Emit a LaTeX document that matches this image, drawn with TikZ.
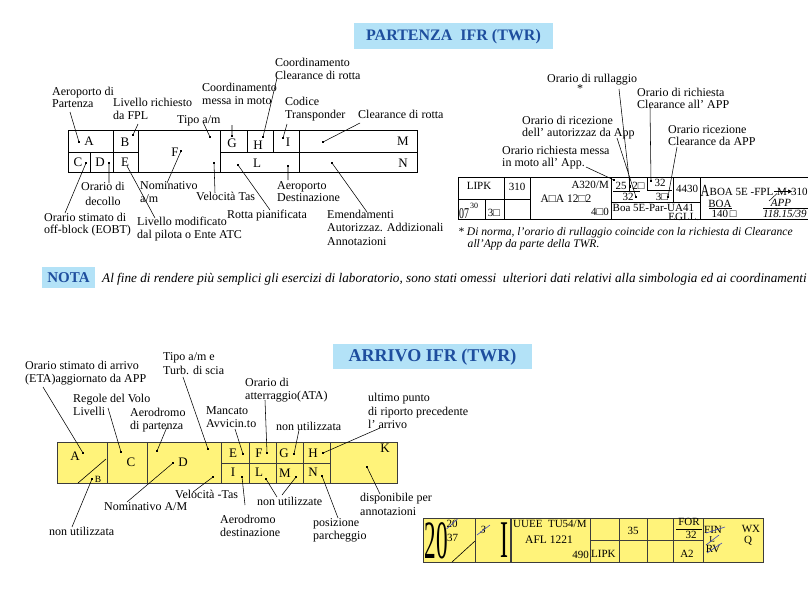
\documentclass[tikz,border=0pt]{standalone}
\usepackage{fontspec}
\setmainfont{Liberation Serif}
\usetikzlibrary{arrows.meta}
\definecolor{ttlblue}{RGB}{179,226,247}
\definecolor{ttltext}{RGB}{30,78,158}
\definecolor{stripyel}{RGB}{255,243,122}
\definecolor{strikeblue}{RGB}{60,70,190}
\definecolor{strokegray}{RGB}{60,60,60}
\newcommand\lblfont{\fontsize{12}{12.6}\selectfont}
\newcommand\cellfont{\fontsize{13}{14}\selectfont}
\newcommand\smfont{\fontsize{11}{12}\selectfont}
\newcommand\mytab[1]{\begin{tabular}[t]{@{}l@{}}#1\end{tabular}}
\newcommand\mytabc[1]{\begin{tabular}[t]{@{}c@{}}#1\end{tabular}}
\begin{document}
\begin{tikzpicture}[x=1pt,y=-1pt,
  lab/.style={anchor=base west, inner sep=0, font=\lblfont},
  cell/.style={inner sep=0, font=\cellfont},
  smtxt/.style={inner sep=0, font=\smfont},
  sqdot/.style={rectangle, fill=black, inner sep=0, minimum size=2.8pt},
  lead/.style={line width=0.55pt},
  gridl/.style={line width=0.7pt},
  agrid/.style={line width=0.8pt, draw=strokegray},
  strike/.style={line width=0.6pt, draw=strikeblue},
  ttlbox/.style={fill=ttlblue, inner sep=0},
  ttltxt/.style={inner sep=0, text=ttltext, font=\bfseries}
]
\useasboundingbox (0,0) rectangle (808,590);
\clip (0,0) rectangle (808,590);
\fill[white] (0,0) rectangle (808,590);

% ---------- titles ----------
\fill[ttlbox] (354,23) rectangle (553,49);
\node[ttltxt, font=\fontsize{16}{18}\selectfont\bfseries] (tPart) at (453.5,36.5) {PARTENZA\ \ IFR (TWR)};
\fill[ttlbox] (333,344) rectangle (532,369);
\node[ttltxt, font=\fontsize{18}{20}\selectfont\bfseries] (tArr) at (432.5,357) {ARRIVO IFR (TWR)};
\fill[ttlbox] (42,267) rectangle (95,288);
\node[ttltxt, font=\fontsize{15}{17}\selectfont\bfseries] (tNota) at (68.5,278) {NOTA};
\node[anchor=base west, inner sep=0, font=\fontsize{13.2}{15}\selectfont\itshape] (nota) at (102,282)
  {Al fine di rendere più semplici gli esercizi di laboratorio, sono stati omessi\ \ ulteriori dati relativi alla simbologia ed ai coordinamenti};

% ---------- PARTENZA left strip ----------
\draw[gridl] (68,130) rectangle (417,172);
\draw[gridl] (68,152) -- (138,152) (113,130) -- (113,172) (90,152) -- (90,172)
  (138,130) -- (138,172) (220,130) -- (220,172) (220,152) -- (417,152)
  (247,130) -- (247,152) (273,130) -- (273,152) (299,130) -- (299,172);
\node[cell] (pA) at (89,141) {A};
\node[cell] (pB) at (125,142) {B};
\node[cell] (pC) at (78,162) {C};
\node[cell] (pD) at (100,162) {D};
\node[cell] (pE) at (125,162) {E};
\node[cell] (pF) at (175,152) {F};
\node[cell] (pG) at (232,143) {G};
\node[cell] (pH) at (258,145) {H};
\node[cell] (pI) at (288,142) {I};
\node[cell] (pM) at (403,141) {M};
\node[cell] (pL) at (257,163) {L};
\node[cell] (pN) at (403,163) {N};

\node[sqdot] (dpA) at (79,142) {};
\node[sqdot] (dpB) at (133,135) {};
\node[sqdot] (dpC) at (86,163) {};
\node[sqdot] (dpD) at (109,163) {};
\node[sqdot] (dpF) at (181,151) {};
\node[sqdot] (dpT) at (210,137) {};
\node[sqdot] (dpV) at (214,163) {};
\node[sqdot] (dpG) at (232,136) {};
\node[sqdot] (dpH) at (263,137) {};
\node[sqdot] (dpI) at (283,138) {};
\node[sqdot] (dpM) at (323,142) {};
\node[sqdot] (dpL) at (238,165) {};
\node[sqdot] (dpDe) at (288,166) {};
\node[sqdot] (dpN) at (332,163) {};

\coordinate (epA) at (70,112);
\coordinate (epB) at (138,124);
\coordinate (epT) at (203,122);
\coordinate (epG) at (232,125);
\coordinate (epH) at (277,78);
\coordinate (epI) at (287,124);
\coordinate (epM) at (360,123);
\coordinate (epC) at (65,213);
\coordinate (epD) at (109,183);
\coordinate (spE) at (127,166);
\coordinate (epE) at (155,218);
\coordinate (epF) at (167,183);
\coordinate (epV) at (215,193);
\coordinate (epL) at (270,210);
\coordinate (epDe) at (288,180);
\coordinate (epN) at (367,212);
\draw[lead] (dpA.center) -- (epA) (dpB.center) -- (epB) (dpT.center) -- (epT)
  (dpG.center) -- (epG) (dpH.center) -- (epH) (dpI.center) -- (epI)
  (dpM.center) -- (epM) (dpC.center) -- (epC) (dpD.center) -- (epD)
  (spE) -- (epE) (dpF.center) -- (epF) (dpV.center) -- (epV)
  (dpL.center) -- (epL) (dpDe.center) -- (epDe) (dpN.center) -- (epN);

\node[lab, font=\fontsize{12}{12}\selectfont] (lpA) at (52,95.5) {\mytab{Aeroporto di\\Partenza}};
\node[lab] (lpB) at (113,106.5) {\mytab{Livello richiesto\\da FPL}};
\node[lab] (lpT) at (177,123.5) {Tipo\ a/m};
\node[lab] (lpG) at (202,91.5) {\mytab{Coordinamento\\messa in moto}};
\node[lab] (lpH) at (275,66.5) {\mytab{Coordinamento\\Clearance di rotta}};
\node[lab] (lpI) at (285,105.5) {\mytab{Codice\\Transponder}};
\node[lab] (lpM) at (358,118.5) {Clearance di rotta};
\node[lab, anchor=base, font=\fontsize{12}{14.5}\selectfont] (lpD) at (103,190.5) {\mytabc{Orario di\\decollo}};
\node[lab, font=\fontsize{12}{12.2}\selectfont] (lpC) at (44,221.5) {\mytab{Orario stimato di\\off-block (EOBT)}};
\node[lab] (lpF) at (140,189.5) {\mytab{Nominativo\\a/m}};
\node[lab] (lpE) at (137,225.5) {\mytab{Livello modificato\\dal pilota o Ente ATC}};
\node[lab] (lpV) at (196,200.5) {Velocità Tas};
\node[lab] (lpL) at (227,218.5) {Rotta pianificata};
\node[lab, font=\fontsize{12}{12.2}\selectfont] (lpDe) at (277,189.5) {\mytab{Aeroporto\\Destinazione}};
\node[lab, font=\fontsize{12}{13.3}\selectfont] (lpN) at (327,218.5) {\mytab{Emendamenti\\Autorizzaz. Addizionali\\Annotazioni}};

% ---------- PARTENZA right strip ----------
\draw[gridl] (808,177) -- (458,177) -- (458,219) -- (808,219);
\draw[gridl] (458,199) -- (530,199) (485,199) -- (485,219) (504,177) -- (504,219)
  (530,177) -- (530,219) (611,177) -- (611,219) (700,177) -- (700,219)
  (611,202) -- (700,202) (673,177) -- (673,202)
  (629,177) -- (629,192) (647,177) -- (647,190) (647,190) -- (672,190);
\draw[line width=0.5pt] (613,191.5) -- (640,191.5);
\node[smtxt] (rLIPK) at (479,186) {LIPK};
\node[smtxt] (r310) at (517,187) {310};
\node[inner sep=0, anchor=base west, font=\fontsize{15}{15}\selectfont] (r07) at (459,218.5) {\scalebox{0.66}[1]{07}};
\node[inner sep=0, font=\fontsize{8}{9}\selectfont, anchor=base west] (r30) at (470,208) {30};
\node[smtxt] (r3sq) at (494,213) {3□};
\node[smtxt, anchor=east] (rA320) at (609,185) {A320/M};
\node[smtxt, font=\fontsize{11.5}{12}\selectfont] (rAA) at (566,199) {A□A 12□2};
\node[smtxt, anchor=east] (r4q0) at (609,212) {4□0};
\node[smtxt] (r25) at (621,186) {25};
\node[smtxt] (r2q) at (638.5,186) {2□};
\node[smtxt] (r32a) at (628,197) {32};
\node[smtxt] (r32b) at (660,183) {32};
\node[smtxt] (r3qb) at (662,197) {3□};
\node[smtxt] (r4430) at (687,189) {4430};
\node[smtxt, anchor=west] (rBoa) at (612.5,207.5) {Boa 5E-Par-UA41};
\node[smtxt, anchor=east] (rEGLL) at (699.5,216.5) {EGLL.};
\node[inner sep=0, anchor=base west, font=\fontsize{17}{18}\selectfont] (rBigA) at (700.5,196) {\scalebox{0.72}[1]{A}};
\node[smtxt, anchor=base west] (rFPL) at (709.5,195) {BOA 5E -FPL};
\coordinate (sl1) at (769,201);
\coordinate (sl2) at (777,193.5);
\draw[line width=0.5pt] (sl1) -- (sl2);
\node[smtxt, anchor=base west] (rM) at (777,195) {M};
\coordinate (ar1) at (774,191.5);
\coordinate (ar2) at (792,191.5);
\draw[line width=0.6pt, -{Triangle[length=4pt,width=4pt]}] (ar1) -- (ar2);
\node[smtxt, anchor=base west] (r310b) at (791,195) {310};
\node[smtxt] (rBOA) at (720,204) {BOA};
\draw[line width=0.5pt] (709,208.5) -- (732,208.5);
\node[smtxt] (r140) at (724,214) {140\,□};
\node[smtxt, font=\smfont\itshape] (rAPP) at (781,203) {APP};
\draw[line width=0.5pt] (763,208.5) -- (808,208.5);
\node[smtxt, font=\smfont\itshape, anchor=west] (r118) at (763,214) {118.15/39'};

\node[sqdot] (drMo) at (614,180) {};
\node[sqdot] (drRu) at (630,186.5) {};
\node[sqdot] (drAu) at (636,197) {};
\node[sqdot] (drCl) at (651,181) {};
\node[sqdot] (drRc) at (668,197) {};
\coordinate (erMo) at (586,167);
\coordinate (erRu) at (619,89);
\coordinate (erAu) at (617,138);
\coordinate (erCl) at (650,107);
\coordinate (erRc) at (677,147);
\draw[lead] (drMo.center) -- (erMo) (drRu.center) -- (erRu) (drAu.center) -- (erAu)
  (drCl.center) -- (erCl) (drRc.center) -- (erRc);

\node[lab] (lrRu) at (547,82.5) {Orario di rullaggio};
\node[inner sep=0, font=\lblfont] (lrStar) at (580,89) {*};
\node[lab, font=\fontsize{12}{11.8}\selectfont] (lrCl) at (637,96.5) {\mytab{Orario di richiesta\\Clearance all' APP}};
\node[lab, font=\fontsize{12}{12}\selectfont] (lrAu) at (522,124.5) {\mytab{Orario di ricezione\\dell' autorizzaz da App}};
\node[lab, font=\fontsize{12}{11.8}\selectfont] (lrRc) at (668,133.5) {\mytab{Orario ricezione\\Clearance da APP}};
\node[lab, font=\fontsize{12}{11.5}\selectfont] (lrMo) at (502,154.5) {\mytab{Orario richiesta messa\\in moto all' App.}};
\node[lab, font=\fontsize{11.6}{11.8}\selectfont\itshape] (lrFn) at (458,235.5)
  {\mytab{* Di norma, l'orario di rullaggio coincide con la richiesta di Clearance\\\hspace*{9.5pt}all'App da parte della TWR.}};

% ---------- ARRIVO strip ----------
\filldraw[agrid, fill=stripyel] (57,442) rectangle (397,483);
\draw[agrid] (107,442) -- (107,483) (147,442) -- (147,483) (221,442) -- (221,483)
  (249,442) -- (249,483) (276,442) -- (276,483) (303,442) -- (303,483) (330,442) -- (330,483)
  (221,463) -- (330,463);
\draw[line width=0.6pt] (78,483) -- (106,459);
\node[cell] (aA) at (75,456) {A};
\node[inner sep=0, font=\fontsize{9.5}{10}\selectfont] (aB) at (98,479) {B};
\node[cell] (aC) at (131,462) {C};
\node[cell] (aD) at (183,462) {D};
\node[cell] (aE) at (233,453) {E};
\node[cell] (aF) at (259,453) {F};
\node[cell] (aG) at (284,453) {G};
\node[cell] (aH) at (313,453) {H};
\node[cell] (aK) at (385,448) {K};
\node[cell] (aI) at (233,472) {I};
\node[cell] (aL) at (259,472) {L};
\node[cell] (aM) at (285,473) {M};
\node[cell] (aN) at (313,472) {N};

\node[sqdot] (daA) at (83,453) {};
\node[sqdot] (daB) at (92,479) {};
\node[sqdot] (daC) at (121,452) {};
\node[sqdot] (daD) at (173,463) {};
\node[sqdot] (daP) at (157,451) {};
\node[sqdot] (daT) at (208,449) {};
\node[sqdot] (daV) at (213,477) {};
\node[sqdot] (daE) at (243,454) {};
\node[sqdot] (daF) at (267,453) {};
\node[sqdot] (daG) at (294,454) {};
\node[sqdot] (daH) at (323,453) {};
\node[sqdot] (daK) at (367,467) {};
\node[sqdot] (daI) at (242,477) {};
\node[sqdot] (daL) at (266,479) {};
\node[sqdot] (daM) at (296,477) {};
\node[sqdot] (daN) at (322,476) {};

\coordinate (eaA) at (43,387);
\coordinate (eaC) at (108,408);
\coordinate (eaP) at (167,427);
\coordinate (eaT) at (183,377);
\coordinate (eaE) at (235,429);
\coordinate (eaF) at (265,400);
\coordinate (eaG) at (299,430);
\coordinate (eaH) at (380,428);
\coordinate (eaB) at (72,527);
\coordinate (eaD) at (127,502);
\coordinate (eaV) at (193,492);
\coordinate (eaI) at (245,505);
\coordinate (eaL) at (277,497);
\coordinate (eaM) at (282,495);
\coordinate (eaN) at (338,518);
\coordinate (eaK) at (380,494);
\draw[lead] (daA.center) -- (eaA) (daC.center) -- (eaC) (daP.center) -- (eaP)
  (daT.center) -- (eaT) (daE.center) -- (eaE) (daF.center) -- (eaF)
  (daG.center) -- (eaG) (daH.center) -- (eaH) (daB.center) -- (eaB)
  (daD.center) -- (eaD) (daV.center) -- (eaV) (daI.center) -- (eaI)
  (daL.center) -- (eaL) (daM.center) -- (eaM) (daN.center) -- (eaN)
  (daK.center) -- (eaK);

\node[lab] (laA) at (25,369.5) {\mytab{Orario stimato di arrivo\\(ETA)aggiornato da APP}};
\node[lab, font=\fontsize{12}{13}\selectfont] (laC) at (73,402.5) {\mytab{Regole del Volo\\Livelli}};
\node[lab, font=\fontsize{12}{13}\selectfont] (laP) at (130,416.5) {\mytab{Aerodromo\\di partenza}};
\node[lab, font=\fontsize{12}{13.5}\selectfont] (laT) at (163,360.5) {\mytab{Tipo a/m e\\Turb. di scia}};
\node[lab, font=\fontsize{12}{13}\selectfont] (laE) at (206,414.5) {\mytab{Mancato\\Avvicin.to}};
\node[lab, font=\fontsize{12}{13}\selectfont] (laF) at (245,386.5) {\mytab{Orario di\\atterraggio(ATA)}};
\node[lab] (laG) at (276,430.5) {non utilizzata};
\node[lab, font=\fontsize{12}{13.5}\selectfont] (laH) at (368,401.5) {\mytab{ultimo punto\\di riporto precedente\\l' arrivo}};
\node[lab] (laB) at (49,535.5) {non utilizzata};
\node[lab] (laD) at (104,510.5) {Nominativo A/M};
\node[lab] (laV) at (175,498.5) {Velocità -Tas};
\node[lab, font=\fontsize{12}{13}\selectfont] (laI) at (220,523.5) {\mytab{Aerodromo\\destinazione}};
\node[lab] (laLM) at (257,505.5) {non utilizzate};
\node[lab, font=\fontsize{12}{13}\selectfont] (laN) at (313,526.5) {\mytab{posizione\\parcheggio}};
\node[lab, font=\fontsize{12}{14}\selectfont] (laK) at (360,501.5) {\mytab{disponibile per\\annotazioni}};

% ---------- ARRIVO example strip ----------
\filldraw[agrid, fill=stripyel] (423,518) rectangle (763,562);
\draw[agrid] (475,518) -- (475,562) (590,518) -- (590,562) (619,518) -- (619,562)
  (647,518) -- (647,562) (673,518) -- (673,562) (703,518) -- (703,562)
  (590,540) -- (703,540);
\draw[line width=1.1pt, draw=strokegray] (511,518) -- (511,562);
\draw[line width=0.6pt] (452,562) -- (475,541);
\node[inner sep=0, font=\fontsize{54}{54}\selectfont] (b20) at (436,541) {\scalebox{0.43}[1]{20}};
\node[smtxt, font=\fontsize{11}{12}\selectfont] (b20s) at (452,524) {20};
\draw[strike] (446.5,529) -- (457.5,519);
\node[smtxt, font=\fontsize{11}{12}\selectfont] (b37) at (452.5,538) {37};
\node[smtxt, font=\fontsize{11}{12}\selectfont\itshape] (b3) at (483,530) {3};
\draw[strike] (477,535) -- (490,525);
\node[inner sep=0, font=\fontsize{53}{53}\selectfont] (bI) at (504,540) {\scalebox{0.45}[1]{I}};
\node[smtxt, font=\fontsize{11}{12}\selectfont, anchor=west] (bUU) at (513,523.5) {UUEE\ \ TU54/M};
\node[smtxt, font=\fontsize{11.5}{12}\selectfont] (bAFL) at (549,540) {AFL 1221};
\node[smtxt, font=\fontsize{11}{12}\selectfont, anchor=east] (b490) at (589,555) {490};
\node[smtxt, font=\fontsize{11}{12}\selectfont, anchor=west] (bLIPK) at (591,554) {LIPK};
\node[smtxt, font=\fontsize{11}{12}\selectfont] (b35) at (633,531) {35};
\node[smtxt, font=\fontsize{11}{12}\selectfont] (bFOR) at (689,522) {FOR};
\draw[line width=0.6pt] (676,529.5) -- (702,529.5);
\node[smtxt, font=\fontsize{11}{12}\selectfont] (b32) at (691,535) {32};
\node[smtxt, font=\fontsize{11}{12}\selectfont] (bA2) at (687,554) {A2};
\node[smtxt, font=\fontsize{11}{12}\selectfont, anchor=west] (bFIN) at (704,530) {FIN};
\draw[strike] (706,533) -- (725,527);
\node[smtxt, font=\fontsize{9}{10}\selectfont] (bL) at (712,540) {L};
\draw[strike] (706,545) -- (719,535);
\node[smtxt, font=\fontsize{11}{12}\selectfont] (bRV) at (713,548.5) {RV};
\draw[strike] (707,553) -- (722,543);
\node[smtxt, font=\fontsize{11}{12}\selectfont] (bWX) at (751,529) {WX};
\node[smtxt, font=\fontsize{11}{12}\selectfont] (bQ) at (748,541) {Q};
\end{tikzpicture}
\end{document}
